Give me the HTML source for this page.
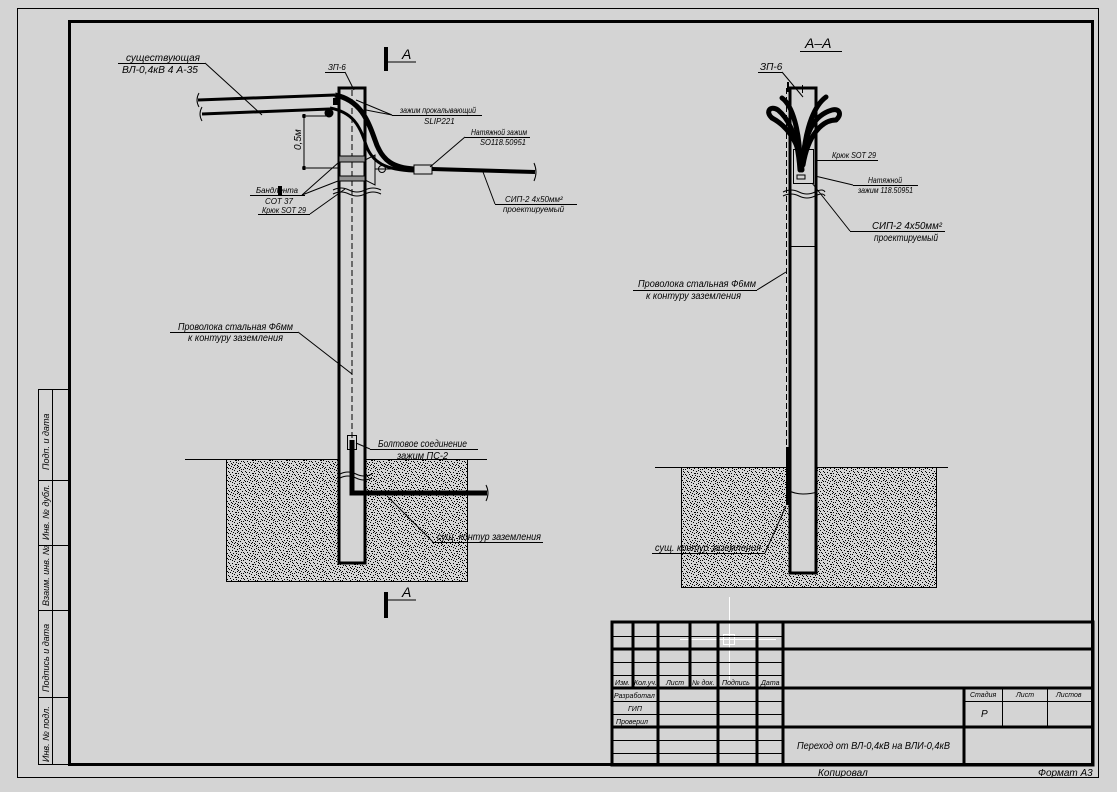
<!DOCTYPE html>
<html><head><meta charset="utf-8"><style>
html,body{margin:0;padding:0;background:#d4d4d4;}
svg{display:block;}
text{font-family:"Liberation Sans","DejaVu Sans",sans-serif;font-style:italic;fill:#000;}
</style></head><body>
<svg width="1117" height="792" viewBox="0 0 1117 792" xmlns="http://www.w3.org/2000/svg">
<defs>
<pattern id="sp" width="17" height="13" patternUnits="userSpaceOnUse">
<rect width="17" height="13" fill="#d4d4d4"/>
<g fill="#000">
<rect x="1" y="0" width="1" height="1"/><rect x="5" y="1" width="1" height="1"/><rect x="9" y="0" width="1" height="1"/><rect x="13" y="2" width="1" height="1"/>
<rect x="3" y="3" width="1" height="1"/><rect x="7" y="3" width="1" height="1"/><rect x="11" y="4" width="1" height="1"/><rect x="15" y="5" width="1" height="1"/>
<rect x="0" y="5" width="1" height="1"/><rect x="5" y="6" width="1" height="1"/><rect x="9" y="6" width="1" height="1"/><rect x="2" y="8" width="1" height="1"/>
<rect x="12" y="7" width="1" height="1"/><rect x="7" y="9" width="1" height="1"/><rect x="14" y="9" width="1" height="1"/><rect x="4" y="10" width="1" height="1"/>
<rect x="10" y="11" width="1" height="1"/><rect x="0" y="11" width="1" height="1"/><rect x="16" y="12" width="1" height="1"/><rect x="6" y="12" width="1" height="1"/>
<rect x="14" y="0" width="1" height="1"/><rect x="8" y="4" width="1" height="1"/><rect x="1" y="2" width="1" height="1"/><rect x="16" y="3" width="1" height="1"/>
<rect x="3" y="6" width="1" height="1"/><rect x="13" y="10" width="1" height="1"/><rect x="10" y="8" width="1" height="1"/><rect x="6" y="7" width="1" height="1"/>
<rect x="11" y="1" width="1" height="1"/><rect x="15" y="7" width="1" height="1"/><rect x="2" y="12" width="1" height="1"/><rect x="8" y="10" width="1" height="1"/>
<rect x="12" y="12" width="1" height="1"/><rect x="4" y="4" width="1" height="1"/><rect x="0" y="8" width="1" height="1"/><rect x="16" y="10" width="1" height="1"/>
<rect x="7" y="0" width="1" height="1"/><rect x="11" y="9" width="1" height="1"/><rect x="3" y="1" width="1" height="1"/><rect x="14" y="5" width="1" height="1"/>
</g>
</pattern>
</defs>
<rect width="1117" height="792" fill="#d4d4d4"/>
<!-- frames -->
<rect x="17.5" y="8.5" width="1081" height="769" fill="none" stroke="#000" stroke-width="1"/>
<rect x="69.5" y="21.5" width="1023" height="743" fill="none" stroke="#000" stroke-width="3"/>
<!-- left strip -->
<g stroke="#000" stroke-width="1" fill="none">
<rect x="38.5" y="389.5" width="31" height="375"/>
<line x1="52.5" y1="389" x2="52.5" y2="765"/>
<line x1="38" y1="480.5" x2="69" y2="480.5"/>
<line x1="38" y1="545.5" x2="69" y2="545.5"/>
<line x1="38" y1="610.5" x2="69" y2="610.5"/>
<line x1="38" y1="697.5" x2="69" y2="697.5"/>
</g>
<g font-size="9">
<text transform="translate(49,470) rotate(-90)">Подп. и дата</text>
<text transform="translate(49,540) rotate(-90)">Инв. № дубл.</text>
<text transform="translate(49,606) rotate(-90)">Взаим. инв. №</text>
<text transform="translate(49,692) rotate(-90)">Подпись и дата</text>
<text transform="translate(49,762) rotate(-90)">Инв. № подл.</text>
</g>

<!-- ================= LEFT DRAWING ================= -->
<rect x="384" y="47" width="4" height="24" fill="#000"/>
<line x1="386" y1="62" x2="416" y2="62" stroke="#000"/>
<text x="402" y="59" font-size="14" font-style="normal">A</text>
<rect x="384" y="592" width="4" height="26" fill="#000"/>
<line x1="386" y1="600" x2="416" y2="600" stroke="#000"/>
<text x="402" y="597" font-size="14" font-style="normal">A</text>

<rect x="226.5" y="459.5" width="241" height="122" fill="url(#sp)" stroke="#000"/>
<line x1="185" y1="459.5" x2="487" y2="459.5" stroke="#000"/>
<rect x="339" y="88" width="26" height="475" fill="#d4d4d4" stroke="#000" stroke-width="3"/>
<line x1="352" y1="90" x2="352" y2="440" stroke="#000" stroke-dasharray="6,3"/>
<rect x="339" y="156" width="26" height="6" fill="#909090" stroke="#000"/>
<rect x="339" y="176" width="26" height="5" fill="#909090" stroke="#000"/>
<path d="M333 190 q8 -4 16 0 t16 0 t16 0" fill="none" stroke="#000"/>
<path d="M333 194 q8 -4 16 0 t16 0 t16 0" fill="none" stroke="#000"/>
<path d="M340 474 q8 -4 16 0 t16 0" fill="none" stroke="#000"/>
<path d="M340 478 q8 -4 16 0 t16 0" fill="none" stroke="#000"/>
<line x1="198" y1="100" x2="335" y2="95" stroke="#000" stroke-width="3"/>
<line x1="202" y1="114" x2="330" y2="109" stroke="#000" stroke-width="3"/>
<path d="M199 93 q-4 7 0 14 M202 107 q-4 7 0 14" fill="none" stroke="#000"/>
<circle cx="329" cy="113" r="4.5" fill="#000"/>
<rect x="333" y="98" width="5" height="7" fill="#000"/>
<path d="M335 95 C 360 100, 368 120, 375 140 C 382 162, 395 168, 414 169" fill="none" stroke="#000" stroke-width="5"/>
<path d="M330 108 C 352 112, 360 125, 366 145 C 372 162, 385 170, 414 171" fill="none" stroke="#000" stroke-width="3"/>
<rect x="414" y="165" width="18" height="9" fill="#d4d4d4" stroke="#000"/>
<line x1="432" y1="169" x2="535" y2="172" stroke="#000" stroke-width="4"/>
<path d="M534 163 q4 9 0 18" fill="none" stroke="#000"/>
<path d="M365 160 l10 -5 v30 l-10 -5 z" fill="none" stroke="#000"/>
<circle cx="382" cy="169" r="3.5" fill="none" stroke="#000"/>
<line x1="375" y1="169" x2="414" y2="169" stroke="#000"/>
<line x1="304" y1="116" x2="304" y2="168" stroke="#000"/>
<line x1="302" y1="116" x2="330" y2="116" stroke="#000"/>
<line x1="302" y1="168" x2="340" y2="168" stroke="#000"/>
<rect x="302.5" y="114" width="3" height="4" fill="#000"/>
<rect x="302.5" y="166" width="3" height="4" fill="#000"/>
<text transform="translate(301,150) rotate(-90)" font-size="10">0,5м</text>

<g stroke="#000" stroke-width="1" fill="none">
<line x1="118" y1="63.5" x2="205" y2="63.5"/><line x1="205" y1="63" x2="262" y2="115"/>
<line x1="325" y1="72.5" x2="345" y2="72.5"/><line x1="345" y1="72" x2="354" y2="90"/>
<line x1="392" y1="115.5" x2="482" y2="115.5"/><line x1="392" y1="115" x2="356" y2="100"/><line x1="392" y1="115" x2="366" y2="110"/>
<line x1="465" y1="137.5" x2="530" y2="137.5"/><line x1="465" y1="137" x2="430" y2="167"/>
<line x1="495" y1="204.5" x2="577" y2="204.5"/><line x1="495" y1="204" x2="483" y2="172"/>
<line x1="250" y1="195.5" x2="305" y2="195.5"/><line x1="302" y1="195" x2="338" y2="163"/><line x1="302" y1="195" x2="338" y2="181"/>
<line x1="258" y1="214.5" x2="310" y2="214.5"/><line x1="310" y1="214" x2="345" y2="189"/>
<line x1="170" y1="332.5" x2="298" y2="332.5"/><line x1="298" y1="332" x2="352" y2="374"/>
<rect x="347.5" y="435.5" width="9" height="14"/>
<line x1="370" y1="449.5" x2="478" y2="449.5"/><line x1="370" y1="449" x2="356" y2="443"/>
<line x1="433" y1="542.5" x2="543" y2="542.5"/><line x1="433" y1="542" x2="388" y2="497"/>
</g>
<path d="M352 440 V493 H487" fill="none" stroke="#000" stroke-width="5"/>
<path d="M486 485 q4 8 0 16" fill="none" stroke="#000"/>
<rect x="278" y="186" width="4" height="10" fill="#000"/>
<g>
<text x="126" y="61" font-size="10" textLength="74" lengthAdjust="spacingAndGlyphs">существующая</text>
<text x="122" y="73" font-size="10" textLength="76" lengthAdjust="spacingAndGlyphs">ВЛ-0,4кВ 4 А-35</text>
<text x="328" y="70" font-size="8">ЗП-6</text>
<text x="400" y="113" font-size="8" textLength="76" lengthAdjust="spacingAndGlyphs">зажим прокалывающий</text>
<text x="424" y="124" font-size="8">SLIP221</text>
<text x="471" y="135" font-size="8" textLength="56" lengthAdjust="spacingAndGlyphs">Натяжной зажим</text>
<text x="480" y="145" font-size="8" textLength="46" lengthAdjust="spacingAndGlyphs">SO118.50951</text>
<text x="505" y="202" font-size="8">СИП-2 4х50мм²</text>
<text x="503" y="212" font-size="8">проектируемый</text>
<text x="256" y="193" font-size="8" textLength="42" lengthAdjust="spacingAndGlyphs">Бандлента</text>
<text x="265" y="204" font-size="8">СОТ 37</text>
<text x="262" y="213" font-size="8" textLength="44" lengthAdjust="spacingAndGlyphs">Крюк SOT 29</text>
<text x="178" y="330" font-size="10" textLength="115" lengthAdjust="spacingAndGlyphs">Проволока стальная Ф6мм</text>
<text x="188" y="341" font-size="10" textLength="95" lengthAdjust="spacingAndGlyphs">к контуру заземления</text>
<text x="378" y="447" font-size="10" textLength="89" lengthAdjust="spacingAndGlyphs">Болтовое соединение</text>
<text x="397" y="459" font-size="10" textLength="51" lengthAdjust="spacingAndGlyphs">зажим ПС-2</text>
<text x="437" y="540" font-size="10" textLength="104" lengthAdjust="spacingAndGlyphs">сущ. контур заземления</text>
</g>

<!-- ================= RIGHT DRAWING ================= -->
<text x="805" y="48" font-size="14">А–А</text>
<line x1="800" y1="51.5" x2="842" y2="51.5" stroke="#000"/>
<rect x="681.5" y="467.5" width="255" height="120" fill="url(#sp)" stroke="#000"/>
<line x1="655" y1="467.5" x2="948" y2="467.5" stroke="#000"/>
<rect x="790" y="88" width="26" height="485" fill="#d4d4d4" stroke="#000" stroke-width="3"/>
<line x1="790" y1="246.5" x2="816" y2="246.5" stroke="#000"/>
<line x1="786.5" y1="88" x2="786.5" y2="460" stroke="#000" stroke-dasharray="6,3"/>
<rect x="793.5" y="149.5" width="20" height="34" fill="none" stroke="#000"/>
<path d="M783 192 q8 -4 16 0 t16 0 t10 0" fill="none" stroke="#000"/>
<path d="M783 196 q8 -4 16 0 t16 0 t10 0" fill="none" stroke="#000"/>
<path d="M787 490 q8 4 16 4 t14 -2" fill="none" stroke="#000"/>
<g fill="none" stroke="#000" stroke-width="5" stroke-linecap="round">
<path d="M800 170 C 798 140, 790 120, 778 110 C 770 105, 765 112, 772 118"/>
<path d="M802 170 C 800 140, 785 125, 772 118"/>
<path d="M800 165 C 800 130, 792 105, 782 98"/>
<path d="M802 165 C 805 130, 815 115, 832 110 C 840 108, 842 115, 836 120"/>
<path d="M803 165 C 808 135, 822 120, 836 120"/>
<path d="M803 160 C 806 125, 815 105, 826 97"/>
</g>
<rect x="787" y="82" width="2" height="10" fill="#000"/>
<rect x="802" y="85" width="1" height="8" fill="#000"/>
<rect x="797" y="175" width="8" height="4" fill="none" stroke="#000"/>
<rect x="786" y="447" width="4" height="58" fill="#000"/>
<g stroke="#000" stroke-width="1" fill="none">
<line x1="758" y1="72.5" x2="782" y2="72.5"/><line x1="782" y1="72" x2="803" y2="97"/>
<line x1="816" y1="160.5" x2="878" y2="160.5"/>
<line x1="853" y1="185.5" x2="918" y2="185.5"/><line x1="853" y1="185" x2="815" y2="176"/>
<line x1="850" y1="231.5" x2="945" y2="231.5"/><line x1="850" y1="231" x2="812" y2="183"/>
<line x1="633" y1="290.5" x2="757" y2="290.5"/><line x1="757" y1="290" x2="786" y2="272"/>
<line x1="652" y1="553.5" x2="765" y2="553.5"/><line x1="765" y1="553" x2="786" y2="506"/>
</g>
<g>
<text x="760" y="70" font-size="10">ЗП-6</text>
<text x="832" y="158" font-size="8" textLength="44" lengthAdjust="spacingAndGlyphs">Крюк SOT 29</text>
<text x="868" y="183" font-size="8" textLength="34" lengthAdjust="spacingAndGlyphs">Натяжной</text>
<text x="858" y="193" font-size="8" textLength="55" lengthAdjust="spacingAndGlyphs">зажим 118.50951</text>
<text x="872" y="229" font-size="10" textLength="70" lengthAdjust="spacingAndGlyphs">СИП-2 4х50мм²</text>
<text x="874" y="241" font-size="10" textLength="64" lengthAdjust="spacingAndGlyphs">проектируемый</text>
<text x="638" y="287" font-size="10" textLength="118" lengthAdjust="spacingAndGlyphs">Проволока стальная Ф6мм</text>
<text x="646" y="299" font-size="10" textLength="95" lengthAdjust="spacingAndGlyphs">к контуру заземления</text>
<text x="655" y="551" font-size="10" textLength="106" lengthAdjust="spacingAndGlyphs">сущ. контур заземления</text>
</g>

<g stroke="#fff" stroke-width="1">
<line x1="729.5" y1="597" x2="729.5" y2="680"/>
<line x1="680" y1="639.5" x2="776" y2="639.5"/>
<rect x="723.5" y="634.5" width="11" height="10" fill="none"/>
</g>

<!-- ================= TITLE BLOCK ================= -->
<g stroke="#000" fill="none">
<rect x="612" y="622" width="481" height="143" stroke-width="3"/>
<g stroke-width="3">
<line x1="633" y1="622" x2="633" y2="688"/>
<line x1="658" y1="622" x2="658" y2="765"/>
<line x1="690" y1="622" x2="690" y2="688"/>
<line x1="718" y1="622" x2="718" y2="765"/>
<line x1="757" y1="622" x2="757" y2="765"/>
<line x1="783" y1="622" x2="783" y2="765"/>
<line x1="612" y1="649" x2="1093" y2="649"/>
<line x1="612" y1="688" x2="1093" y2="688"/>
<line x1="612" y1="727" x2="1093" y2="727"/>
<line x1="964" y1="688" x2="964" y2="765"/>
</g>
<g stroke-width="1">
<line x1="612" y1="636.5" x2="783" y2="636.5"/>
<line x1="612" y1="662.5" x2="783" y2="662.5"/>
<line x1="612" y1="675.5" x2="783" y2="675.5"/>
<line x1="612" y1="701.5" x2="783" y2="701.5"/>
<line x1="612" y1="714.5" x2="783" y2="714.5"/>
<line x1="612" y1="740.5" x2="783" y2="740.5"/>
<line x1="612" y1="753.5" x2="783" y2="753.5"/>
<line x1="964" y1="701.5" x2="1093" y2="701.5"/>
<line x1="1002.5" y1="688" x2="1002.5" y2="727"/>
<line x1="1047.5" y1="688" x2="1047.5" y2="727"/>
</g>
</g>
<g font-size="7">
<text x="615" y="685">Изм.</text>
<text x="634" y="685">Кол.уч.</text>
<text x="666" y="685">Лист</text>
<text x="692" y="685">№ док.</text>
<text x="722" y="685">Подпись</text>
<text x="761" y="685">Дата</text>
<text x="614" y="698">Разработал</text>
<text x="628" y="711">ГИП</text>
<text x="616" y="724">Проверил</text>
<text x="970" y="697">Стадия</text>
<text x="1016" y="697">Лист</text>
<text x="1056" y="697">Листов</text>
</g>
<text x="981" y="717" font-size="10">Р</text>
<text x="797" y="749" font-size="10" textLength="153" lengthAdjust="spacingAndGlyphs">Переход от ВЛ-0,4кВ на ВЛИ-0,4кВ</text>
<text x="818" y="776" font-size="10">Копировал</text>
<text x="1038" y="776" font-size="10">Формат А3</text>
</svg>
</body></html>
